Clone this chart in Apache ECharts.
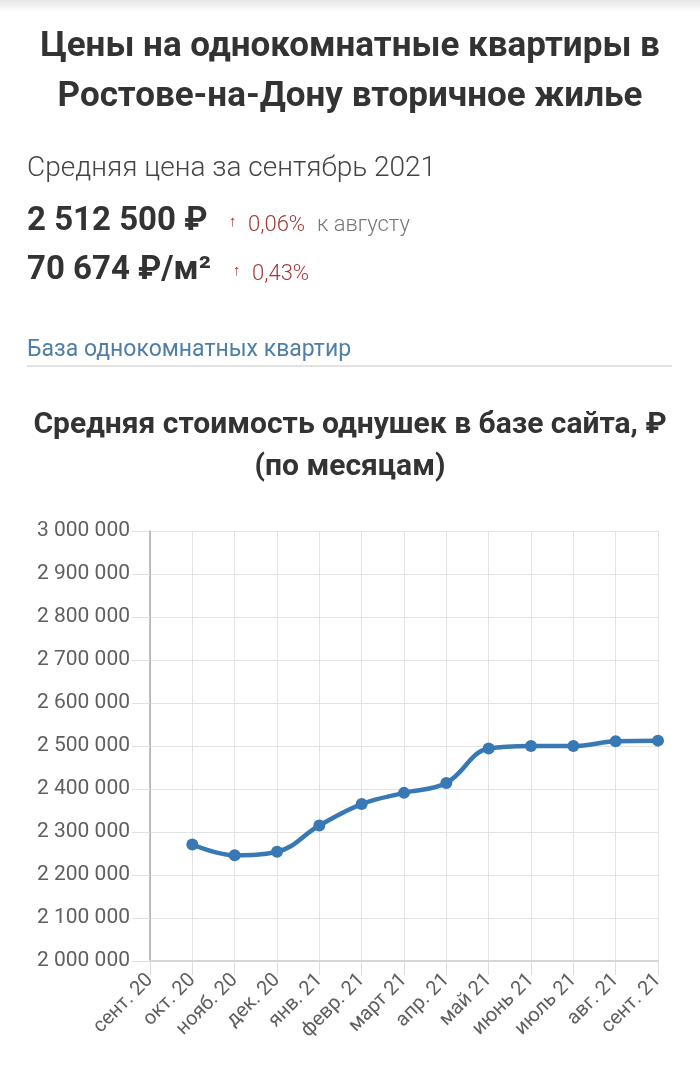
<!DOCTYPE html>
<html><head><meta charset="utf-8">
<script src="https://cdn.jsdelivr.net/npm/echarts@6/dist/echarts.min.js"></script>
<style>html,body{margin:0;padding:0;background:#fff}#c{width:700px;height:1073px}</style>
</head><body><div id="c"></div>
<script>
const categories = ['сент. 20','окт. 20','нояб. 20','дек. 20','янв. 21','февр. 21','март 21','апр. 21','май 21','июнь 21','июль 21','авг. 21','сент. 21'];
const prices = [null, 2271000, 2246000, 2254000, 2315000, 2365000, 2391000, 2414000, 2494000, 2500000, 2500000, 2511000, 2512500];
const yMin = 2000000, yMax = 3000000, yStep = 100000;

function fmt(v){ return String(v).replace(/\B(?=(\d{3})+(?!\d))/g, ' '); }

const FONT = 'Roboto';
const chart = echarts.init(document.getElementById('c'), null, {renderer:'canvas'});
chart.setOption({
  backgroundColor:'#fff',
  animation:false,
  textStyle:{fontFamily:FONT},
  graphic:[
    {type:'rect', shape:{x:0,y:0,width:700,height:12}, style:{fill:new echarts.graphic.LinearGradient(0,0,0,1,[{offset:0,color:'#e6e6e6'},{offset:1,color:'#ffffff'}])}},
    {type:'text', x:350, y:47, style:{text:'Цены на однокомнатные квартиры в', font:'bold 35px Roboto', fill:'#333', align:'center', verticalAlign:'middle'}},
    {type:'text', x:350, y:97, style:{text:'Ростове-на-Дону вторичное жилье', font:'bold 35px Roboto', fill:'#333', align:'center', verticalAlign:'middle'}},
    {type:'text', x:27, y:169, style:{text:'Средняя цена за сентябрь 2021', font:'300 28px Roboto', fill:'#444', align:'left', verticalAlign:'middle'}},
    {type:'text', x:27, y:222, style:{text:'2 512 500 ₽', font:'bold 33px Roboto', fill:'#333', align:'left', verticalAlign:'middle'}},
    {type:'text', x:229, y:222, style:{text:'↑', font:'15px Roboto', fill:'#a33a3a', align:'left', verticalAlign:'middle'}},
    {type:'text', x:248, y:225, style:{text:'0,06%', font:'300 22px Roboto', fill:'#a33a3a', align:'left', verticalAlign:'middle'}},
    {type:'text', x:317, y:225, style:{text:'к августу', font:'300 22px Roboto', fill:'#777', align:'left', verticalAlign:'middle'}},
    {type:'text', x:27, y:271, style:{text:'70 674 ₽/м²', font:'bold 33px Roboto', fill:'#333', align:'left', verticalAlign:'middle'}},
    {type:'text', x:233, y:271, style:{text:'↑', font:'15px Roboto', fill:'#a33a3a', align:'left', verticalAlign:'middle'}},
    {type:'text', x:252, y:274, style:{text:'0,43%', font:'300 22px Roboto', fill:'#a33a3a', align:'left', verticalAlign:'middle'}},
    {type:'text', x:27, y:350, style:{text:'База однокомнатных квартир', font:'23px Roboto', fill:'#4f7fa6', align:'left', verticalAlign:'middle'}},
    {type:'rect', shape:{x:27,y:365,width:645,height:2}, style:{fill:'#e2e2e2'}},
    {type:'text', x:350, y:425, style:{text:'Средняя стоимость однушек в базе сайта, ₽', font:'bold 30px Roboto', fill:'#333', align:'center', verticalAlign:'middle'}},
    {type:'text', x:350, y:467, style:{text:'(по месяцам)', font:'bold 30px Roboto', fill:'#333', align:'center', verticalAlign:'middle'}}
  ],
  grid:{left:150, right:42, top:531, bottom:112, containLabel:false},
  xAxis:{
    type:'category', data:categories, boundaryGap:false,
    axisLine:{show:true, lineStyle:{color:'#d6d6d6', width:2}},
    axisTick:{show:true, length:14, lineStyle:{color:'#dcdcdc'}},
    splitLine:{show:true, lineStyle:{color:'#e3e3e3', width:1}},
    axisLabel:{rotate:45, fontSize:20, color:'#5f5f5f', margin:16, interval:0, fontFamily:FONT}
  },
  yAxis:{
    type:'value', min:yMin, max:yMax, interval:yStep,
    axisLine:{show:true, lineStyle:{color:'#aaaaaa', width:1.5}},
    axisTick:{show:true, length:18, lineStyle:{color:'#e0e0e0'}},
    splitLine:{show:true, lineStyle:{color:'#e3e3e3', width:1}},
    axisLabel:{fontSize:21, color:'#5f5f5f', margin:20, formatter:fmt, fontFamily:FONT}
  },
  series:[{
    type:'line', data:prices, smooth:0.4, connectNulls:false,
    symbol:'circle', symbolSize:12, showSymbol:true,
    lineStyle:{color:'#3878b4', width:4.5},
    itemStyle:{color:'#3878b4'}
  }]
});
</script></body></html>
